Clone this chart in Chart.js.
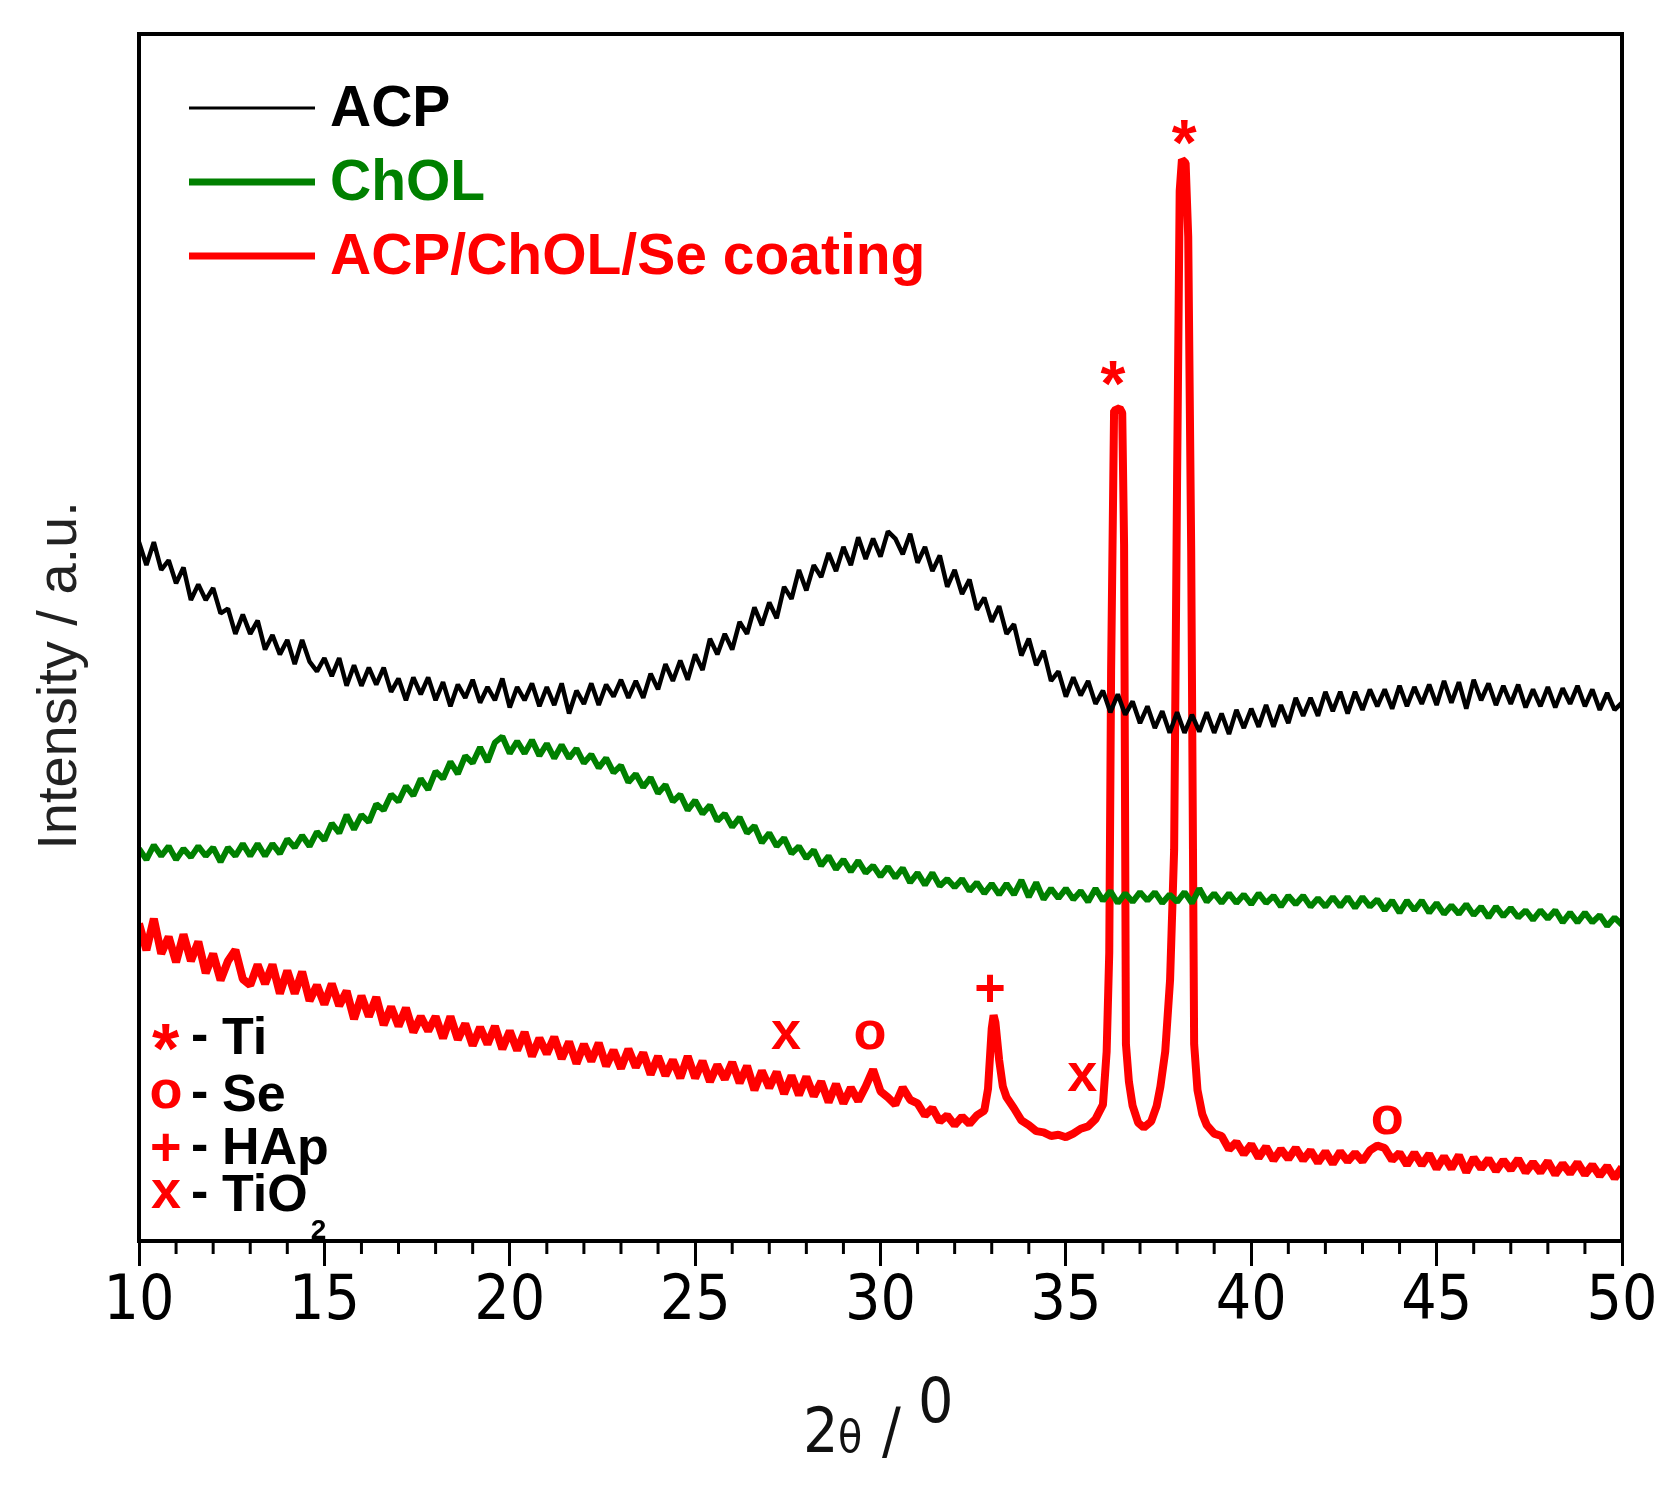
<!DOCTYPE html>
<html>
<head>
<meta charset="utf-8">
<script src="https://cdn.jsdelivr.net/npm/chart.js@4.4.1/dist/chart.umd.min.js"></script>
<style>
  html, body { margin: 0; padding: 0; background: #fff; }
  #wrap { width: 1660px; height: 1485px; position: relative; }
</style>
</head>
<body>
<div id="wrap"><canvas id="xrdChart"></canvas></div>
<script>
// 2-theta positions for the ACP and ChOL scans
const angles = [
  10, 10.2, 10.4, 10.6, 10.8, 11, 11.2, 11.4, 11.6, 11.8,
  12, 12.2, 12.4, 12.6, 12.8, 13, 13.2, 13.4, 13.6, 13.8,
  14, 14.2, 14.4, 14.6, 14.8, 15, 15.2, 15.4, 15.6, 15.8,
  16, 16.2, 16.4, 16.6, 16.8, 17, 17.2, 17.4, 17.6, 17.8,
  18, 18.2, 18.4, 18.6, 18.8, 19, 19.2, 19.4, 19.6, 19.8,
  20, 20.2, 20.4, 20.6, 20.8, 21, 21.2, 21.4, 21.6, 21.8,
  22, 22.2, 22.4, 22.6, 22.8, 23, 23.2, 23.4, 23.6, 23.8,
  24, 24.2, 24.4, 24.6, 24.8, 25, 25.2, 25.4, 25.6, 25.8,
  26, 26.2, 26.4, 26.6, 26.8, 27, 27.2, 27.4, 27.6, 27.8,
  28, 28.2, 28.4, 28.6, 28.8, 29, 29.2, 29.4, 29.6, 29.8,
  30, 30.2, 30.4, 30.6, 30.8, 31, 31.2, 31.4, 31.6, 31.8,
  32, 32.2, 32.4, 32.6, 32.8, 33, 33.2, 33.4, 33.6, 33.8,
  34, 34.2, 34.4, 34.6, 34.8, 35, 35.2, 35.4, 35.6, 35.8,
  36, 36.2, 36.4, 36.6, 36.8, 37, 37.2, 37.4, 37.6, 37.8,
  38, 38.2, 38.4, 38.6, 38.8, 39, 39.2, 39.4, 39.6, 39.8,
  40, 40.2, 40.4, 40.6, 40.8, 41, 41.2, 41.4, 41.6, 41.8,
  42, 42.2, 42.4, 42.6, 42.8, 43, 43.2, 43.4, 43.6, 43.8,
  44, 44.2, 44.4, 44.6, 44.8, 45, 45.2, 45.4, 45.6, 45.8,
  46, 46.2, 46.4, 46.6, 46.8, 47, 47.2, 47.4, 47.6, 47.8,
  48, 48.2, 48.4, 48.6, 48.8, 49, 49.2, 49.4, 49.6, 49.8,
  50
];

const acp = [
  579, 560, 579, 556, 564, 545, 558, 531, 544, 531,
  541, 520, 524, 503, 519, 503, 514, 490, 502, 486,
  498, 478, 498, 480, 472, 483, 468, 483, 460, 477,
  460, 475, 461, 475, 455, 466, 448, 467, 453, 467,
  448, 463, 443, 461, 450, 465, 446, 459, 448, 466,
  442, 459, 448, 462, 443, 459, 444, 462, 437, 456,
  445, 462, 444, 461, 451, 465, 450, 464, 450, 470,
  457, 478, 464, 481, 465, 486, 473, 499, 486, 503,
  490, 513, 503, 525, 510, 529, 516, 542, 532, 556,
  539, 560, 550, 570, 555, 575, 560, 583, 565, 582,
  567, 588, 582, 569, 586, 562, 575, 555, 568, 542,
  556, 536, 548, 523, 533, 513, 526, 503, 511, 485,
  499, 477, 489, 464, 472, 451, 467, 452, 464, 445,
  456, 438, 453, 436, 447, 429, 443, 425, 439, 421,
  438, 421, 436, 422, 438, 421, 437, 420, 440, 425,
  441, 426, 444, 426, 444, 429, 450, 435, 450, 435,
  455, 439, 455, 437, 455, 440, 457, 443, 457, 441,
  460, 443, 459, 445, 461, 444, 464, 446, 463, 441,
  465, 448, 462, 444, 460, 445, 461, 442, 457, 443,
  459, 442, 458, 445, 460, 443, 457, 440, 454, 440,
  446
];

const chol = [
  325, 316, 328, 319, 327, 316, 325, 318, 327, 319,
  326, 314, 326, 319, 329, 319, 329, 319, 329, 321,
  333, 326, 336, 327, 339, 332, 346, 338, 353, 341,
  353, 347, 362, 357, 370, 364, 377, 369, 383, 374,
  389, 383, 397, 387, 402, 396, 409, 397, 413, 418,
  404, 414, 404, 415, 402, 412, 400, 411, 400, 408,
  396, 403, 392, 400, 388, 394, 380, 387, 376, 384,
  371, 378, 364, 370, 357, 365, 354, 361, 348, 354,
  343, 351, 338, 344, 330, 338, 327, 334, 321, 327,
  317, 324, 311, 319, 308, 316, 306, 315, 305, 311,
  302, 310, 301, 309, 297, 305, 295, 305, 294, 300,
  293, 300, 290, 297, 288, 296, 287, 296, 287, 299,
  285, 297, 283, 292, 284, 292, 283, 290, 281, 292,
  282, 290, 280, 288, 281, 289, 282, 289, 280, 287,
  281, 289, 280, 292, 281, 288, 280, 288, 280, 287,
  279, 288, 280, 286, 277, 286, 279, 286, 277, 284,
  277, 285, 277, 285, 276, 285, 277, 283, 274, 282,
  272, 282, 274, 282, 272, 280, 271, 278, 271, 279,
  270, 277, 268, 277, 269, 276, 268, 274, 266, 274,
  267, 274, 264, 272, 264, 272, 264, 270, 261, 268,
  262
];

// the coating scan has extra points across the sharp peaks
const coatingAngles = [
  10, 10.2, 10.4, 10.6, 10.8, 11, 11.2, 11.4, 11.6, 11.8,
  12, 12.2, 12.4, 12.6, 12.8, 13, 13.2, 13.4, 13.6, 13.8,
  14, 14.2, 14.4, 14.6, 14.8, 15, 15.2, 15.4, 15.6, 15.8,
  16, 16.2, 16.4, 16.6, 16.8, 17, 17.2, 17.4, 17.6, 17.8,
  18, 18.2, 18.4, 18.6, 18.8, 19, 19.2, 19.4, 19.6, 19.8,
  20, 20.2, 20.4, 20.6, 20.8, 21, 21.2, 21.4, 21.6, 21.8,
  22, 22.2, 22.4, 22.6, 22.8, 23, 23.2, 23.4, 23.6, 23.8,
  24, 24.2, 24.4, 24.6, 24.8, 25, 25.2, 25.4, 25.6, 25.8,
  26, 26.2, 26.4, 26.6, 26.8, 27, 27.2, 27.4, 27.6, 27.8,
  28, 28.2, 28.4, 28.6, 28.8, 29, 29.2,
  29.4, 29.6, 29.8, 30, 30.2, 30.4, 30.6, 30.8, 31, 31.2,
  31.4, 31.6, 31.8, 32, 32.2, 32.4, 32.6, 32.8,
  32.9, 33, 33.05, 33.1, 33.2, 33.3, 33.4,
  33.6, 33.8, 34, 34.2, 34.4, 34.6, 34.8, 35, 35.2, 35.4, 35.6, 35.8, 36,
  36.1, 36.17, 36.22, 36.3, 36.45, 36.52, 36.57, 36.62, 36.7, 36.8, 36.95,
  37.1, 37.3, 37.45, 37.55, 37.68, 37.81, 37.92, 38, 38.07, 38.13,
  38.23, 38.3, 38.38, 38.46, 38.55, 38.68, 38.8, 39,
  39.2, 39.4, 39.6, 39.8,
  40, 40.2, 40.4, 40.6, 40.8, 41, 41.2, 41.4, 41.6, 41.8,
  42, 42.2, 42.4, 42.6, 42.8, 43, 43.2, 43.4, 43.6, 43.8,
  44, 44.2, 44.4, 44.6, 44.8, 45, 45.2, 45.4, 45.6, 45.8,
  46, 46.2, 46.4, 46.6, 46.8, 47, 47.2, 47.4, 47.6, 47.8,
  48, 48.2, 48.4, 48.6, 48.8, 49, 49.2, 49.4, 49.6, 49.8,
  50
];

const coating = [
  263, 241, 267, 238, 252, 231, 254, 232, 248, 222,
  238, 216, 232, 241, 217, 212, 229, 213, 229, 205,
  224, 205, 223, 199, 212, 196, 213, 195, 207, 184,
  203, 186, 202, 179, 194, 178, 193, 173, 186, 174,
  186, 168, 186, 167, 180, 162, 177, 163, 178, 159,
  174, 158, 173, 153, 168, 155, 169, 151, 165, 147,
  163, 149, 164, 145, 158, 143, 159, 144, 156, 138,
  153, 137, 150, 135, 153, 135, 149, 132, 146, 134,
  148, 131, 145, 125, 141, 127, 140, 122, 137, 121,
  136, 120, 132, 115, 130, 114, 127,
  116, 128, 142, 124, 119, 113, 127, 117, 114, 104,
  110, 99, 104, 96, 103, 97, 104, 108,
  126, 176, 187, 181, 150, 128, 119,
  110, 100, 96, 91, 90, 87, 88, 86, 89, 93, 95, 101, 113,
  157, 239, 473, 688, 690, 686, 577, 163, 132, 112, 98,
  94, 99, 112, 128, 157, 216, 324, 633, 870, 896,
  893, 832, 572, 163, 125, 105, 96, 89,
  87, 76, 82, 72,
  80, 69, 78, 67, 76, 68, 77, 67, 75, 65,
  74, 64, 74, 66, 73, 66, 75, 79, 77, 67,
  73, 63, 73, 63, 72, 60, 70, 60, 71, 57,
  69, 60, 68, 58, 67, 59, 68, 57, 65, 57,
  66, 55, 64, 56, 65, 55, 63, 54, 62, 52,
  61
];

const seriesNames = ["ACP", "ChOL", "ACP/ChOL/Se coating"];
const seriesColors = ["#000000", "#008000", "#ff0000"];

const majorTicks = [10, 15, 20, 25, 30, 35, 40, 45, 50];
const minorTicks = [11, 12, 13, 14, 16, 17, 18, 19, 21, 22, 23, 24, 26, 27, 28, 29,
  31, 32, 33, 34, 36, 37, 38, 39, 41, 42, 43, 44, 46, 47, 48, 49];

// phase marks placed over the coating pattern
const markSymbols = ["x", "o", "+", "x", "*", "*", "o"];
const markAngles = [27.45, 29.72, 32.96, 35.44, 36.27, 38.19, 43.67];
const markHeights = [171, 171, 210, 136, 719, 918, 100];

const phaseSymbols = ["*", "o", "+", "x"];
const phaseNames = ["Ti", "Se", "HAp", "TiO"];

const narrow = "'Liberation Sans Narrow', 'Arial Narrow', 'DejaVu Sans Condensed', sans-serif";
const sans = "'Liberation Sans', Arial, sans-serif";

function toPoints(xs, ys) {
  return xs.map((x, i) => ({ x: x, y: ys[i] }));
}

// draw a glyph centred on (cx, cy) using its real ink box
function drawGlyph(ctx, text, cx, cy, font, color) {
  ctx.font = font;
  ctx.fillStyle = color;
  ctx.textAlign = "left";
  ctx.textBaseline = "alphabetic";
  const m = ctx.measureText(text);
  const w = m.actualBoundingBoxRight + m.actualBoundingBoxLeft;
  const h = m.actualBoundingBoxAscent + m.actualBoundingBoxDescent;
  ctx.fillText(text, cx - w / 2 + m.actualBoundingBoxLeft, cy + h / 2 - m.actualBoundingBoxDescent);
}

const decorations = {
  id: "decorations",
  afterDraw(chart) {
    const { ctx, chartArea: area, scales } = chart;
    const x = scales.x, y = scales.y;
    ctx.save();

    // plot frame
    ctx.strokeStyle = "#000";
    ctx.lineWidth = 4;
    ctx.strokeRect(area.left, area.top, area.right - area.left, area.bottom - area.top);

    // minor ticks
    ctx.lineWidth = 3;
    minorTicks.forEach(v => {
      const px = x.getPixelForValue(v);
      ctx.beginPath();
      ctx.moveTo(px, area.bottom);
      ctx.lineTo(px, area.bottom + 13);
      ctx.stroke();
    });

    // series legend, top left
    chart.data.datasets.forEach((ds, i) => {
      const ly = area.top + 74 + i * 74;
      ctx.strokeStyle = ds.borderColor;
      ctx.lineWidth = i === 0 ? 3 : 7;
      ctx.beginPath();
      ctx.moveTo(area.left + 50, ly);
      ctx.lineTo(area.left + 176, ly);
      ctx.stroke();
      ctx.font = "bold 57px " + sans;
      ctx.fillStyle = ds.borderColor;
      ctx.textAlign = "left";
      ctx.textBaseline = "alphabetic";
      ctx.fillText(ds.label, area.left + 191, ly + 18);
    });

    // phase marks
    markSymbols.forEach((s, i) => {
      const size = s === "*" ? 64 : 54;
      drawGlyph(ctx, s, x.getPixelForValue(markAngles[i]), y.getPixelForValue(markHeights[i]),
        "bold " + size + "px " + sans, "#ff0000");
    });

    // phase key, bottom left
    phaseSymbols.forEach((s, i) => {
      const cy = [1037, 1094, 1147, 1194][i];
      const size = s === "*" ? 70 : 54;
      drawGlyph(ctx, s, area.left + 27, cy, "bold " + size + "px " + sans, "#ff0000");
      drawGlyph(ctx, "-", area.left + 61, cy, "bold 52px " + sans, "#000");
      ctx.font = "bold 52px " + sans;
      ctx.fillStyle = "#000";
      ctx.textAlign = "left";
      ctx.textBaseline = "alphabetic";
      ctx.fillText(phaseNames[i], area.left + 83, cy + 17);
      if (i === 3) {
        const w = ctx.measureText(phaseNames[i]).width;
        ctx.font = "bold 28px " + sans;
        ctx.fillText("2", area.left + 86 + w, cy + 45);
      }
    });

    // y axis title
    ctx.save();
    ctx.translate(61, (area.top + area.bottom) / 2 + 38);
    ctx.rotate(-Math.PI / 2);
    ctx.font = "56px " + sans;
    ctx.fillStyle = "#222";
    ctx.textAlign = "center";
    ctx.textBaseline = "middle";
    ctx.fillText("Intensity / a.u.", 0, 0);
    ctx.restore();

    // x axis title: 2θ / 0 (raised)
    ctx.fillStyle = "#111";
    ctx.textAlign = "left";
    ctx.textBaseline = "alphabetic";
    ctx.font = "62px " + narrow;
    ctx.fillText("2", 803, 1452);
    ctx.font = "44px " + narrow;
    ctx.fillText("\u03b8", 838, 1452);
    ctx.font = "62px " + narrow;
    ctx.fillText("/", 882, 1452);
    ctx.fillText("0", 918, 1422);

    ctx.restore();
  }
};

const ctx = document.getElementById("xrdChart").getContext("2d");
const xrdChart = new Chart(ctx, {
  type: "line",
  data: {
    datasets: [
      {
        label: seriesNames[0],
        data: toPoints(angles, acp),
        borderColor: seriesColors[0],
        borderWidth: 4.5,
      },
      {
        label: seriesNames[1],
        data: toPoints(angles, chol),
        borderColor: seriesColors[1],
        borderWidth: 6,
      },
      {
        label: seriesNames[2],
        data: toPoints(coatingAngles, coating),
        borderColor: seriesColors[2],
        borderWidth: 8,
      },
    ],
  },
  options: {
    responsive: true,
    maintainAspectRatio: false,
    animation: false,
    devicePixelRatio: 1,
    events: [],
    elements: {
      point: { radius: 0 },
      line: { tension: 0, borderJoinStyle: "bevel", fill: false },
    },
    layout: { padding: { left: 0, right: 38, top: 34, bottom: 0 } },
    plugins: {
      legend: { display: false },
      tooltip: { enabled: false },
    },
    scales: {
      x: {
        type: "linear",
        min: 10,
        max: 50,
        afterBuildTicks: (scale) => {
          scale.ticks = majorTicks.map(v => ({ value: v }));
        },
        afterFit: (scale) => { scale.height = 244; },
        border: { display: false },
        grid: {
          drawOnChartArea: false,
          drawTicks: true,
          tickLength: 25,
          tickWidth: 3,
          tickColor: "#000",
        },
        ticks: {
          padding: 0,
          color: "#000",
          maxRotation: 0,
          font: { family: narrow, size: 62 },
        },
      },
      y: {
        min: 0,
        max: 1000,
        afterFit: (scale) => { scale.width = 139; },
        border: { display: false },
        grid: { display: false },
        ticks: { display: false },
      },
    },
  },
  plugins: [decorations],
});
</script>
</body>
</html>
